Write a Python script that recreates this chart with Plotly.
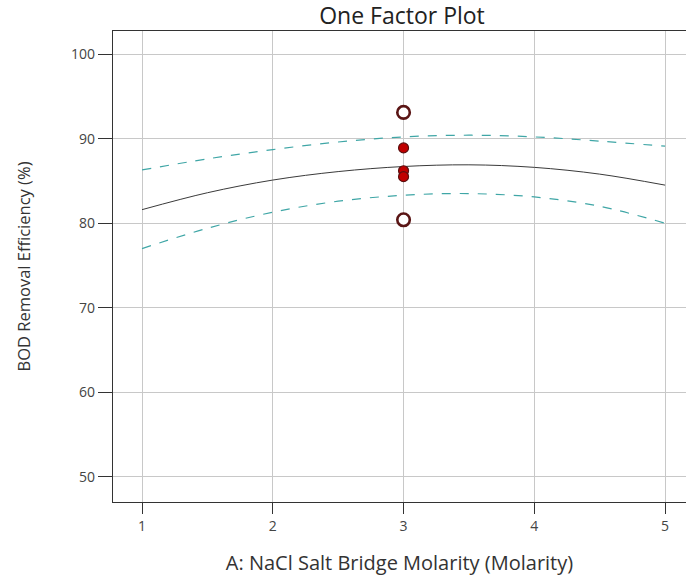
import plotly.graph_objects as go

# Factor levels (NaCl salt bridge molarity) used for the fitted curve and its bands
molarity = [1, 1.5, 2, 2.5, 3, 3.5, 4, 4.5, 5]
predicted = [81.6, 83.6, 85.1, 86.1, 86.7, 86.9, 86.6, 85.8, 84.5]
upper_ci = [86.3, 87.6, 88.7, 89.6, 90.2, 90.4, 90.2, 89.7, 89.1]
lower_ci = [77.0, 79.4, 81.3, 82.6, 83.3, 83.5, 83.1, 82.0, 80.0]

# Observed design points
filled_x = [3, 3, 3]
filled_y = [88.9, 86.2, 85.5]
open_x = [3, 3]
open_y = [93.1, 80.4]

y_ticks = [50, 60, 70, 80, 90, 100]
x_ticks = [1, 2, 3, 4, 5]

FONT = "Open Sans, Noto Sans, sans-serif"
teal = "#3fa6a6"

fig = go.Figure()

fig.add_trace(go.Scatter(x=molarity, y=upper_ci, mode="lines", line=dict(color=teal, width=1.2, dash="dash", shape="spline"), hoverinfo="skip"))
fig.add_trace(go.Scatter(x=molarity, y=lower_ci, mode="lines", line=dict(color=teal, width=1.2, dash="dash", shape="spline"), hoverinfo="skip"))
fig.add_trace(go.Scatter(x=molarity, y=predicted, mode="lines", line=dict(color="#3a3a3a", width=1.0, shape="spline")))

fig.add_trace(go.Scatter(
    x=filled_x, y=filled_y, mode="markers",
    marker=dict(size=10, color="#c00000", line=dict(color="#5a1010", width=1.2)),
))
fig.add_trace(go.Scatter(
    x=open_x, y=open_y, mode="markers",
    marker=dict(size=12.5, color="white", line=dict(color="#5a1515", width=2.6)),
))

fig.update_layout(
    width=686, height=577,
    margin=dict(l=113, r=0, t=31, b=75),
    paper_bgcolor="white", plot_bgcolor="white",
    showlegend=False,
    font=dict(family=FONT, color="#333333"),
    title=dict(text="One Factor Plot", x=0.586, xanchor="center", y=0.972, yanchor="middle",
               font=dict(family=FONT, size=23, color="#222222")),
)

fig.update_xaxes(
    range=[0.778, 5.16], tickvals=x_ticks, ticktext=[str(t) for t in x_ticks],
    showgrid=True, gridcolor="#c8c8c8", gridwidth=1, zeroline=False,
    showline=True, linecolor="#333333", linewidth=1.2, mirror=True,
    ticks="outside", ticklen=11, tickcolor="#333333",
    tickfont=dict(size=14, color="#444444"),
    title=dict(text="A: NaCl Salt Bridge Molarity (Molarity)", font=dict(size=20, color="#333333"), standoff=22),
)
fig.update_yaxes(
    range=[47.04, 102.72], tickvals=y_ticks, ticktext=[str(t) for t in y_ticks],
    showgrid=True, gridcolor="#c8c8c8", gridwidth=1, zeroline=False,
    showline=True, linecolor="#333333", linewidth=1.2,
    ticks="outside", ticklen=14, tickcolor="#333333",
    tickfont=dict(size=14, color="#444444"),
    title=dict(text="BOD Removal Efficiency (%)", font=dict(size=16.5, color="#333333"), standoff=36),
)

fig.write_html("out.html")
